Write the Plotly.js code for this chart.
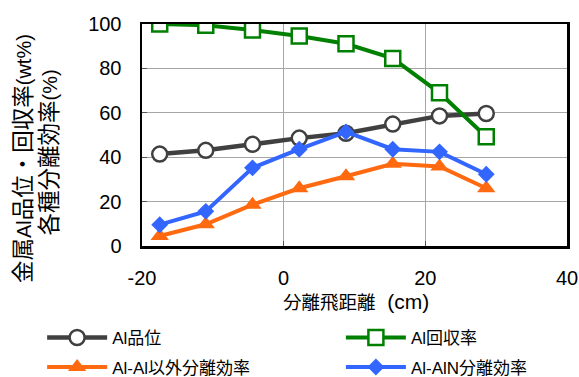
<!DOCTYPE html>
<html>
<head>
<meta charset="utf-8">
<script src="https://cdn.plot.ly/plotly-3.0.1.min.js"></script>
<style>
  html, body { margin: 0; padding: 0; background: #fff; }
  #chart { width: 579px; height: 377px; }
</style>
</head>
<body>
<div id="chart"></div>
<script>
// Separation flight distance (cm)
const distance = [-17.5, -11, -4.4, 2.2, 8.8, 15.4, 22, 28.6];

// Metal Al grade (wt%)
const alGrade = [41.4, 43.1, 45.8, 48.6, 50.8, 54.9, 58.6, 59.7];
// Al recovery (%)
const alRecovery = [100, 99.4, 97.3, 94.6, 91.1, 84.5, 69.0, 49.2];
// Al / non-Al separation efficiency (%)
const effNonAl = [4.5, 9.8, 18.6, 26.0, 31.4, 37.0, 35.8, 26.0];
// Al / AlN separation efficiency (%)
const effAlN = [9.6, 15.6, 35.2, 43.6, 51.4, 43.6, 42.4, 32.3];

const seriesNames = ['Al品位', 'Al回収率', 'Al-Al以外分離効率', 'Al-AlN分離効率'];
const xTickVals = [-20, 0, 20, 40];
const yTickVals = [0, 20, 40, 60, 80, 100];

const FONT = 'Liberation Sans, Arial, "Noto Sans CJK JP", sans-serif';
const CJK = (s, px) => '<span style="font-size:' + px + 'px">' + s + '</span>';

const traces = [
  {
    x: distance, y: alGrade, name: seriesNames[0], legend: 'legend',
    type: 'scatter', mode: 'lines+markers',
    line: { color: '#404040', width: 4.5 },
    marker: { symbol: 'circle', size: 15, color: '#ffffff', line: { color: '#404040', width: 2.5 } }
  },
  {
    x: distance, y: alRecovery, name: seriesNames[1], legend: 'legend2',
    type: 'scatter', mode: 'lines+markers',
    line: { color: '#008000', width: 4 },
    marker: { symbol: 'square', size: 15, color: '#ffffff', line: { color: '#008000', width: 2.5 } }
  },
  {
    x: distance, y: effNonAl, name: seriesNames[2], legend: 'legend3',
    type: 'scatter', mode: 'lines+markers',
    line: { color: '#ff6a10', width: 4 },
    marker: { symbol: 'triangle-up', size: 16, color: '#ff6a10' }
  },
  {
    x: distance, y: effAlN, name: seriesNames[3], legend: 'legend4',
    type: 'scatter', mode: 'lines+markers',
    line: { color: '#3366ff', width: 4 },
    marker: { symbol: 'diamond', size: 13, color: '#3366ff' }
  }
];

// One legend box per entry, laid out as a 2 x 2 grid under the plot
function legendAt(x, y) {
  return {
    x: x, xanchor: 'left', y: y, yanchor: 'middle',
    orientation: 'v', itemwidth: 60,
    bgcolor: 'rgba(0,0,0,0)', borderwidth: 0,
    font: { family: FONT, size: 17, color: '#000' }
  };
}

const layout = {
  width: 579, height: 377,
  margin: { l: 142, r: 12, t: 24, b: 131, autoexpand: false },
  paper_bgcolor: '#ffffff', plot_bgcolor: '#ffffff',
  font: { family: FONT, size: 18, color: '#000000' },
  showlegend: true,
  legend: legendAt(-0.235, -0.414),
  legend2: legendAt(0.468, -0.414),
  legend3: legendAt(-0.235, -0.547),
  legend4: legendAt(0.468, -0.547),
  xaxis: {
    range: [-20, 40],
    tickvals: xTickVals,
    ticktext: xTickVals.map(String),
    showgrid: true, gridcolor: '#a6a6a6', gridwidth: 1,
    zeroline: false,
    showline: true, linecolor: '#000', linewidth: 2.5, mirror: true,
    ticks: 'inside', ticklen: 5, tickcolor: '#555',
    ticklabelstandoff: 12,
    tickfont: { family: FONT, size: 20 }
  },
  yaxis: {
    range: [0, 100],
    tickvals: yTickVals,
    ticktext: yTickVals.map(String),
    showgrid: true, gridcolor: '#a6a6a6', gridwidth: 1,
    zeroline: false,
    showline: true, linecolor: '#000', linewidth: 2.5, mirror: true,
    ticks: 'inside', ticklen: 5, tickcolor: '#555',
    ticklabelstandoff: 14,
    tickfont: { family: FONT, size: 20 }
  },
  annotations: [
    {
      text: CJK('金属', 22.5) + 'Al' + CJK('品位・回収率', 22.5) + '(wt%)', textangle: -90,
      xref: 'paper', yref: 'paper', x: -0.28, y: 0.396,
      xanchor: 'center', yanchor: 'middle', showarrow: false,
      font: { family: FONT, size: 20 }
    },
    {
      text: CJK('各種分離効率', 22.5) + '(%)', textangle: -90,
      xref: 'paper', yref: 'paper', x: -0.2165, y: 0.421,
      xanchor: 'center', yanchor: 'middle', showarrow: false,
      font: { family: FONT, size: 20 }
    },
    {
      text: CJK('分離飛距離', 18.5) + '  (cm)',
      xref: 'paper', yref: 'paper', x: 0.503, y: -0.252,
      xanchor: 'center', yanchor: 'middle', showarrow: false,
      font: { family: FONT, size: 21 }
    }
  ]
};

Plotly.newPlot('chart', traces, layout, { displayModeBar: false, staticPlot: true });
</script>
</body>
</html>
